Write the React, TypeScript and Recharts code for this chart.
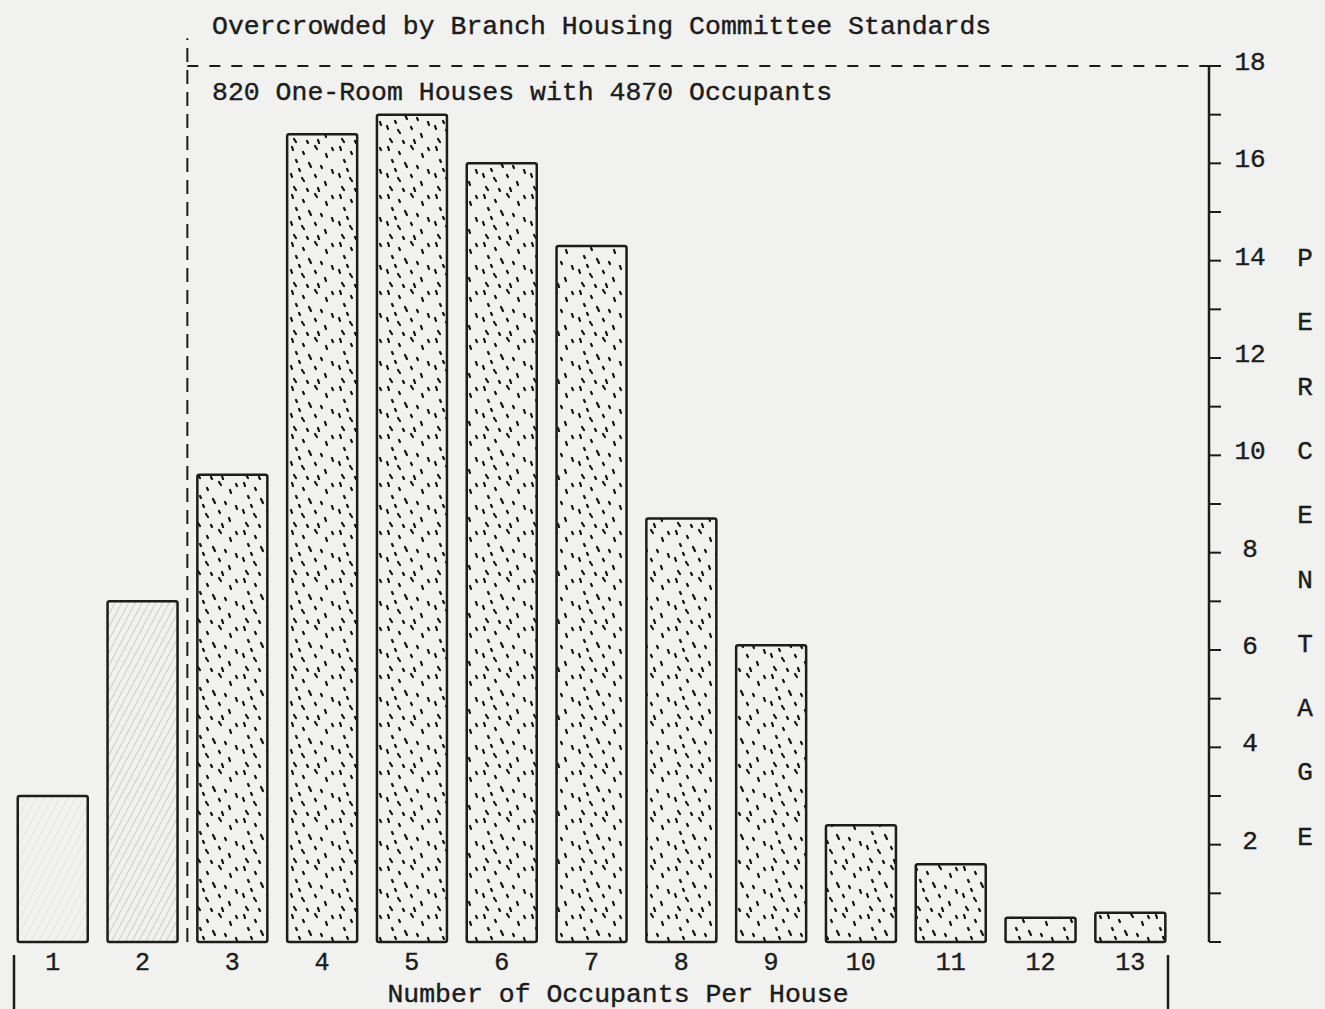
import { BarChart, Bar, XAxis, YAxis, Cell, ReferenceLine } from "recharts";

// occupants per one-room house, and share of houses (%)
const occupants = [1, 2, 3, 4, 5, 6, 7, 8, 9, 10, 11, 12, 13];
const percentages = [3.0, 7.0, 9.6, 16.6, 17.0, 16.0, 14.3, 8.7, 6.1, 2.4, 1.6, 0.5, 0.6];
const yTicks = [0, 1, 2, 3, 4, 5, 6, 7, 8, 9, 10, 11, 12, 13, 14, 15, 16, 17, 18];
const yLabels = [2, 4, 6, 8, 10, 12, 14, 16, 18];
const sideTitle = ["P", "E", "R", "C", "E", "N", "T", "A", "G", "E"];

const data = occupants.map((n, i) => ({ occupants: n, percent: percentages[i] }));

const FONT = "'Liberation Mono', 'DejaVu Sans Mono', monospace";
const INK = "#1c1c1c";
const PAPER = "#f1f1ef";
const X_DOMAIN: [number, number] = [0.436, 13.877];

const dashes = [
  [4, 3, 1, 3], [15, 8, 1, 2], [27, 2, 2, 3], [38, 10, 1, 3], [8, 16, 1, 2],
  [21, 19, 2, 4], [33, 22, 1, 2], [44, 26, 1, 3], [3, 30, 1, 3], [14, 34, 2, 3],
  [27, 31, 1, 2], [37, 38, 1, 3], [6, 43, 2, 3], [19, 45, 1, 2], [30, 44, 1, 3],
  [44, 4, 1, 2], [11, 25, 1, 2],
];

const XTick = (props: any) => {
  const { x, y, payload } = props;
  return (
    <text
      x={x}
      y={y + 28}
      textAnchor="middle"
      fontFamily={FONT}
      fontSize={25}
      fill={INK}
      stroke={INK}
      strokeWidth={0.4}
    >
      {payload.value}
    </text>
  );
};

const YTick = (props: any) => {
  const { x, y, payload } = props;
  if (!yLabels.includes(payload.value)) return null;
  return (
    <text
      x={x + 29}
      y={y + 4}
      textAnchor="middle"
      fontFamily={FONT}
      fontSize={26}
      fill={INK}
      stroke={INK}
      strokeWidth={0.4}
    >
      {payload.value}
    </text>
  );
};

export default function App() {
  return (
    <div style={{ position: "absolute", left: 0, top: 0, width: 1325, height: 1009, background: PAPER }}>
      <svg width={0} height={0} style={{ position: "absolute" }}>
        <defs>
          <pattern id="stipple" width={48} height={48} patternUnits="userSpaceOnUse">
            {dashes.map((d, i) => (
              <path
                key={i}
                d={`M${d[0]} ${d[1]} l${d[2]} ${d[3]}`}
                stroke="#111"
                strokeWidth={2.2}
                strokeLinecap="round"
              />
            ))}
          </pattern>
          <pattern id="hatch" width={6} height={6} patternUnits="userSpaceOnUse" patternTransform="rotate(28)">
            <line x1={0} y1={0} x2={0} y2={6} stroke="#a8a8a8" strokeWidth={1} />
          </pattern>
          <pattern id="hatchLight" width={7} height={7} patternUnits="userSpaceOnUse" patternTransform="rotate(28)">
            <line x1={0} y1={0} x2={0} y2={7} stroke="#cfcfcf" strokeWidth={0.8} />
          </pattern>
        </defs>
      </svg>
      <BarChart
        width={1325}
        height={1009}
        data={data}
        margin={{ top: 66, right: 0, bottom: 37, left: 2 }}
      >
        <XAxis
          dataKey="occupants"
          type="number"
          domain={X_DOMAIN}
          allowDataOverflow
          ticks={occupants}
          interval={0}
          axisLine={false}
          tickLine={false}
          tickSize={0}
          tickMargin={0}
          height={30}
          tick={<XTick />}
        />
        <YAxis
          orientation="right"
          domain={[0, 18]}
          ticks={yTicks}
          interval={0}
          width={116}
          tickSize={12}
          tickMargin={0}
          axisLine={{ stroke: INK, strokeWidth: 2.5 }}
          tickLine={{ stroke: INK, strokeWidth: 2 }}
          tick={<YTick />}
        />
        <ReferenceLine
          segment={[{ x: 2.5, y: 0 }, { x: 2.5, y: 18.57 }]}
          ifOverflow="visible"
          stroke={INK}
          strokeWidth={2}
          strokeDasharray="14 8"
        />
        <ReferenceLine
          segment={[{ x: 2.5, y: 18 }, { x: X_DOMAIN[1], y: 18 }]}
          ifOverflow="visible"
          stroke={INK}
          strokeWidth={2}
          strokeDasharray="11 11"
        />
        <Bar
          dataKey="percent"
          barSize={70}
          stroke={INK}
          strokeWidth={2.5}
          radius={2}
          isAnimationActive={false}
        >
          {data.map((d, i) => (
            <Cell
              key={d.occupants}
              fill={i === 0 ? "url(#hatchLight)" : i === 1 ? "url(#hatch)" : "url(#stipple)"}
            />
          ))}
        </Bar>
      </BarChart>
      <svg
        width={1325}
        height={1009}
        style={{ position: "absolute", left: 0, top: 0, pointerEvents: "none" }}
      >
        <g fontFamily={FONT} fill={INK} stroke={INK} strokeWidth={0.4}>
          <text x={212} y={34} fontSize={26.5}>
            Overcrowded by Branch Housing Committee Standards
          </text>
          <text x={212} y={100} fontSize={26.5}>
            820 One-Room Houses with 4870 Occupants
          </text>
          <text x={618} y={1002} fontSize={26.5} textAnchor="middle">
            Number of Occupants Per House
          </text>
          {sideTitle.map((ch, i) => (
            <text key={i} x={1305} y={266 + i * 64.3} fontSize={26} textAnchor="middle">
              {ch}
            </text>
          ))}
        </g>
        <line x1={14} y1={955} x2={14} y2={1009} stroke={INK} strokeWidth={2.5} />
        <line x1={1168} y1={955} x2={1168} y2={1009} stroke={INK} strokeWidth={2.5} />
      </svg>
    </div>
  );
}
